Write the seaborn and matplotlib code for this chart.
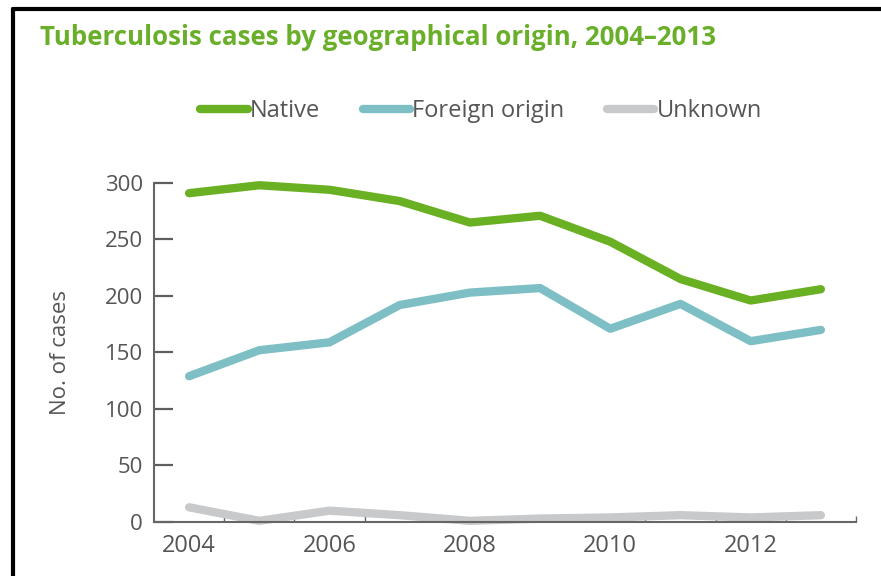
import matplotlib
matplotlib.use('Agg')
import matplotlib.pyplot as plt
import matplotlib.ticker as mticker
from matplotlib.lines import Line2D
import pandas as pd
import seaborn as sns

# data
years = [2004, 2005, 2006, 2007, 2008, 2009, 2010, 2011, 2012, 2013]
native = [291, 298, 294, 284, 265, 271, 248, 215, 196, 206]
foreign = [129, 152, 159, 192, 203, 207, 171, 193, 160, 170]
unknown = [13, 1, 10, 6, 1, 3, 4, 6, 4, 6]

series_names = ['Native', 'Foreign origin', 'Unknown']
colors = ['#6ab023', '#7dbfc4', '#c8c9cb']

df = pd.DataFrame({
    'year': years * 3,
    'cases': native + foreign + unknown,
    'origin': [series_names[0]] * len(years) + [series_names[1]] * len(years)
              + [series_names[2]] * len(years),
})

sns.set_style('white')
plt.rcParams['font.family'] = ['Open Sans', 'DejaVu Sans']

text_grey = '#555555'
axis_grey = '#666666'

fig = plt.figure(figsize=(8.81, 5.76), dpi=100)
ax = fig.add_axes([0.1748, 0.0938, 0.7968, 0.5885])

sns.lineplot(data=df, x='year', y='cases', hue='origin', hue_order=series_names,
             palette=colors, linewidth=6, legend=False, ax=ax)
for ln in ax.lines:
    ln.set_clip_on(False)
    ln.set_solid_capstyle('round')
    ln.set_solid_joinstyle('round')

ax.set_xlim(2003.5, 2013.5)
ax.set_ylim(0, 300)
ax.set_yticks(range(0, 301, 50))
ax.set_xticks([2004, 2006, 2008, 2010, 2012])
ax.xaxis.set_minor_locator(mticker.FixedLocator([y + 0.5 for y in years]))

for side in ['top', 'right']:
    ax.spines[side].set_visible(False)
for side in ['left', 'bottom']:
    ax.spines[side].set_color(axis_grey)
    ax.spines[side].set_linewidth(1.5)

ax.set_xlabel('')
ax.set_ylabel('No. of cases', fontsize=16, color=text_grey, labelpad=24)

# ticks point inwards; year labels sit between the minor ticks
ax.tick_params(axis='y', which='major', left=True, direction='in', length=14,
               width=1.6, color='#5e5e5e', labelsize=16, labelcolor=text_grey,
               pad=8)
ax.tick_params(axis='x', which='major', bottom=True, length=0, labelsize=17,
               labelcolor=text_grey, pad=9)
ax.tick_params(axis='x', which='minor', bottom=True, direction='in', length=4,
               width=1, color=axis_grey)

# legend across the top
handles = [Line2D([0], [0], color=c, linewidth=6, solid_capstyle='round')
           for c in colors]
fig.legend(handles, series_names, loc='center', bbox_to_anchor=(0.546, 0.807),
           ncol=3, frameon=False, fontsize=17, handlelength=2.0,
           handletextpad=0.1, columnspacing=1.8, labelcolor=text_grey)

fig.text(0.045, 0.935, 'Tuberculosis cases by geographical origin, 2004\u20132013',
         fontsize=18.6, fontweight='bold', color='#6aaf2a', va='center', ha='left')

# frame lines at top and left of the picture
fig.add_artist(Line2D([0.015, 1.0], [0.984, 0.984], color='black', linewidth=3,
                      transform=fig.transFigure))
fig.add_artist(Line2D([0.015, 0.015], [0.0, 0.984], color='black', linewidth=3,
                      transform=fig.transFigure))

fig.savefig('out.png', dpi=100)
